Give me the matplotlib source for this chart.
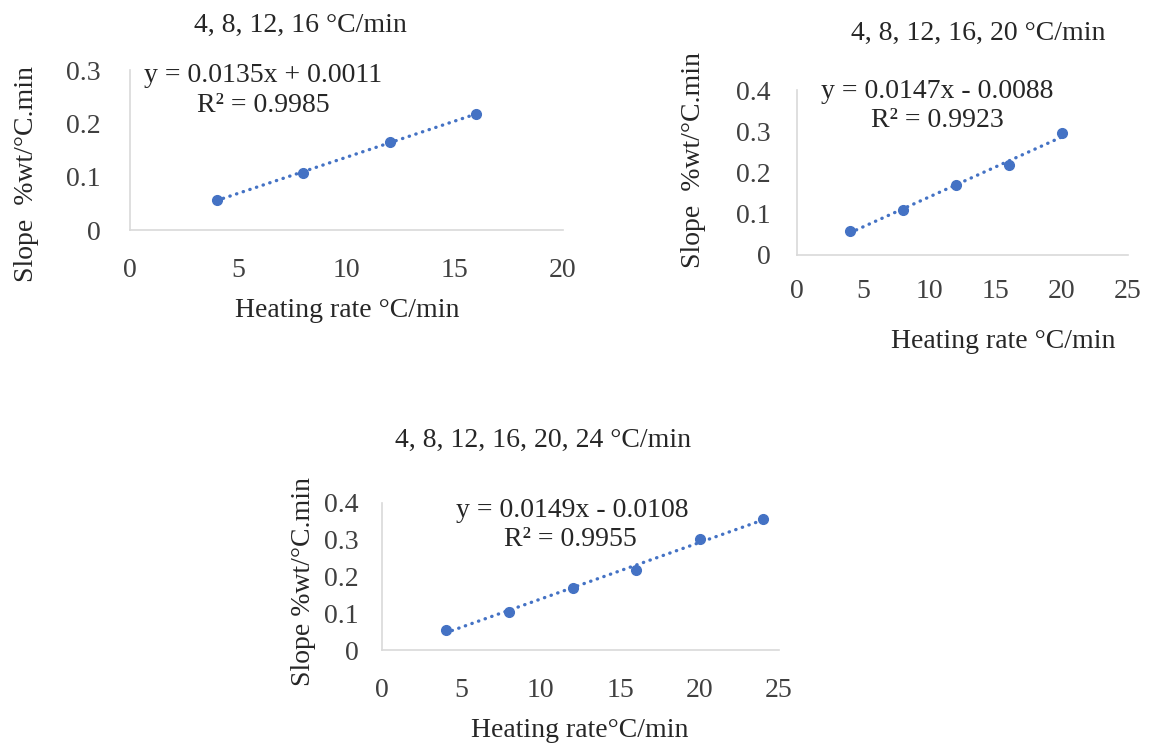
import numpy as np
import matplotlib
matplotlib.use("Agg")
import matplotlib.pyplot as plt

plt.rcParams['font.family'] = ['Liberation Serif', 'DejaVu Serif']

# data
rates1 = [4, 8, 12, 16]
slope1 = [0.057, 0.106, 0.165, 0.218]
rates2 = [4, 8, 12, 16, 20]
slope2 = [0.058, 0.110, 0.170, 0.217, 0.295]
rates3 = [4, 8, 12, 16, 20, 24]
slope3 = [0.054, 0.103, 0.170, 0.218, 0.301, 0.356]

titles = ["4, 8, 12, 16 °C/min", "4, 8, 12, 16, 20 °C/min", "4, 8, 12, 16, 20, 24 °C/min"]
eqs = ["y = 0.0135x + 0.0011", "y = 0.0147x - 0.0088", "y = 0.0149x - 0.0108"]
r2s = ["R² = 0.9985", "R² = 0.9923", "R² = 0.9955"]
xlabels = ["Heating rate °C/min", "Heating rate °C/min", "Heating rate°C/min"]
ylabels = ["Slope  %wt/°C.min", "Slope  %wt/°C.min", "Slope %wt/°C.min"]

W, H = 1151, 746
fig = plt.figure(figsize=(W / 100, H / 100), dpi=100)
fs = 20
blue = '#4472C4'
txt = '#262626'


def px(x, y):
    return x / W, 1 - y / H


def put(pos, s, **kw):
    fig.text(*px(*pos), s, fontsize=fs, color=txt, ha='center', **kw)


def make_panel(rect, xs, ys, xmax, ymax, xticks, yticks, title, tpos,
               eq, epos, r2, rpos, xl, xlpos, yl, ylpos, xpad, ypad):
    ax = fig.add_axes(rect)
    ax.plot(xs, ys, 'o', color=blue, ms=7, zorder=3)
    k, b = np.polyfit(xs, ys, 1)
    xx = np.array([xs[0], xs[-1]])
    ax.plot(xx, k * xx + b, linestyle=(0, (0.1, 2.0)), color=blue, lw=2.4,
            dash_capstyle='round')
    ax.set_xlim(0, xmax)
    ax.set_ylim(0, ymax)
    ax.set_xticks(xticks)
    ax.set_yticks(yticks)
    ax.set_yticklabels([f"{v:g}" for v in yticks])
    for s in ['top', 'right']:
        ax.spines[s].set_visible(False)
    for s in ['left', 'bottom']:
        ax.spines[s].set_color('#D9D9D9')
        ax.spines[s].set_linewidth(1.2)
    ax.tick_params(length=0, labelsize=fs, colors='#404040')
    ax.tick_params(axis='x', pad=xpad)
    ax.tick_params(axis='y', pad=ypad)
    ax.patch.set_alpha(0)
    put(tpos, title, va='baseline')
    put(epos, eq, va='baseline')
    put(rpos, r2, va='baseline')
    put(xlpos, xl, va='baseline')
    put(ylpos, yl, va='center', rotation=90)
    return ax


make_panel([130 / W, 1 - 230 / H, 433 / W, 160 / H], rates1, slope1, 20, 0.3,
           [0, 5, 10, 15, 20], [0, 0.1, 0.2, 0.3], titles[0], (300, 32),
           eqs[0], (263, 82), r2s[0], (263, 112), xlabels[0], (347, 317),
           ylabels[0], (27, 174), 20, 21)

make_panel([797 / W, 1 - 255 / H, 331 / W, 165 / H], rates2, slope2, 25, 0.4,
           [0, 5, 10, 15, 20, 25], [0, 0.1, 0.2, 0.3, 0.4], titles[1], (978, 40),
           eqs[1], (937, 98), r2s[1], (937, 127), xlabels[1], (1003, 348),
           ylabels[1], (693, 160), 17, 19)

make_panel([382 / W, 1 - 650 / H, 397 / W, 147 / H], rates3, slope3, 25, 0.4,
           [0, 5, 10, 15, 20, 25], [0, 0.1, 0.2, 0.3, 0.4], titles[2], (543, 447),
           eqs[2], (572, 517), r2s[2], (570, 546), xlabels[2], (580, 737),
           ylabels[2], (303, 582), 20, 17)

fig.savefig("out.png", dpi=100)
